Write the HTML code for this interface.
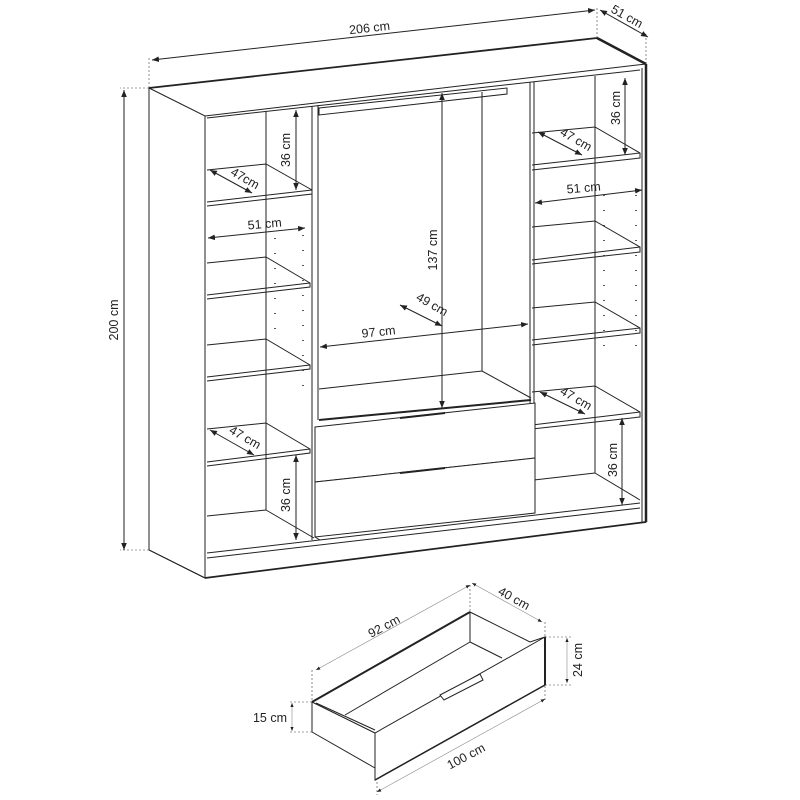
<!DOCTYPE html>
<html><head><meta charset="utf-8"><style>
html,body{margin:0;padding:0;background:#fff;}
svg{display:block;}
text{font-family:"Liberation Sans",sans-serif;font-size:12.5px;fill:#222;}
</style></head><body>
<svg width="800" height="800" viewBox="0 0 800 800" xmlns="http://www.w3.org/2000/svg">
<defs>
<marker id="a" viewBox="0 0 10 10" refX="10" refY="5" markerWidth="7" markerHeight="7" orient="auto-start-reverse"><path d="M0,1 L10,5 L0,9 z" fill="#222"/></marker>
</defs>
<g fill="none" stroke="#222" stroke-width="1">
<path d="M149,88 L597,38 L646,64 L646,522 L205,578 L149,550 Z" fill="#fff"/>
<path d="M597,38 L646,64" stroke-width="2.5"/>
<path d="M149,88 L205,116 L646,64" />
<path d="M149,88 L597,38" stroke-width="1.8"/>
<path d="M205,116 L205,578" />
<path d="M642,68 L642,522" />
<path d="M646,64 L646,522" stroke-width="2.5"/>
<path d="M205,578 L646,522" stroke-width="1.8"/>
<path d="M149,88 L149,550 L205,578"/>
<path d="M207,118 L640,70"/>
<path d="M207,553 L640,503 M207,558 L640,508"/>
<path d="M312,106 L312,540 M318,105 L318,420 M530,82 L530,403 M534,82 L534,512"/>
<path d="M266,111 L266,510 M266,510 L314,538"/>
<path d="M207,170 L266,164 L312,190 L312,194 L207,206 M207,202 L312,190"/>
<path d="M207,263 L266,257 L310,283 L310,287 L207,299 M207,295 L310,283"/>
<path d="M207,345 L266,339 L310,365 L310,369 L207,381 M207,377 L310,365"/>
<path d="M207,429 L266,423 L310,449 L310,453 L207,466 M207,462 L310,449"/>
<path d="M207,516 L266,510"/>
<path d="M595,76 L595,473 L640,500"/>
<path d="M532,133 L595,127 L640,153 L640,158 L532,170 M532,165 L640,153"/>
<path d="M532,227 L595,221 L640,247 L640,252 L532,264 M532,260 L640,247"/>
<path d="M532,308 L595,302 L640,328 L640,333 L532,345 M532,340 L640,328"/>
<path d="M532,392 L595,386 L640,412 L640,417 L532,429 M532,425 L640,412"/>
<path d="M534,480 L595,473"/>
<path d="M319,108 L507,88 L507,94 L319,115 Z"/>
<path d="M482,92 L482,371 M319,389 L482,371 L531,398"/>
<path d="M319,420 L531,400" stroke-width="2"/>
<path d="M315,427 L535,403 L535,458 L315,482 Z" fill="#fff"/>
<path d="M315,482 L535,458 L535,513 L315,537 Z" fill="#fff"/>
<path d="M315,537 L320,540"/>
<path d="M400,418 L445,413 M400,473 L445,468" stroke-width="2"/>
<g stroke-dasharray="1 14" stroke-width="1.5">
<path d="M275,238 L275,340 M303,235 L303,400 M604,195 L604,360 M636,195 L636,360"/>
</g>
</g>
<g fill="none" stroke="#444" stroke-width="0.6" stroke-dasharray="2 2">
<path d="M149,88 L149,58 M597,38 L597,8 M646,64 L646,34 M149,88 L120,88 M149,550 L120,550"/>
<path d="M312,670 L312,700 M470,585 L470,612 M545,622 L545,636 M545,637 L572,637 M545,685 L572,685 M312,702 L288,702 M312,732 L288,732 M377,782 L377,795 M545,686 L545,700"/>
</g>
<g fill="none" stroke="#222" stroke-width="1" marker-start="url(#a)" marker-end="url(#a)">
<path d="M152,60 L595,10"/>
<path d="M600,10 L648,37"/>
<path d="M124,90 L124,550"/>
<path d="M296,110 L296,190"/>
<path d="M210,170 L252,193"/>
<path d="M208,238 L305,228"/>
<path d="M442,93 L442,408"/>
<path d="M400,305 L442,326"/>
<path d="M320,347 L528,324"/>
<path d="M210,430 L254,455"/>
<path d="M296,455 L296,540"/>
<path d="M625,78 L625,155"/>
<path d="M538,132 L582,155"/>
<path d="M535,203 L642,190"/>
<path d="M540,392 L585,414"/>
<path d="M622,418 L622,505"/>
</g>
<g fill="none" stroke="#888" stroke-width="0.6" marker-start="url(#a)" marker-end="url(#a)">
<path d="M316,670 L470,585"/>
<path d="M472,583 L542,622"/>
<path d="M567,638 L567,683"/>
<path d="M292,703 L292,731"/>
<path d="M377,792 L545,699"/>
</g>
<g fill="none" stroke="#222" stroke-width="1">
<path d="M312,702 L470,612 L530,642 L545,637 L545,685 L375,780 L375,768 L312,732 Z" fill="#fff"/>
<path d="M312,702 L470,612" stroke-width="2"/>
<path d="M312,702 L375,733 L545,637"/>
<path d="M316,703 L375,730 M375,733 L375,780" />
<path d="M470,612 L470,642 L345,715 M470,642 L502,658"/>
<path d="M440,695 L480,674 L483,680 L444,700 Z" fill="#fff"/>
<path d="M545,637 L545,685" stroke-width="2"/>
<path d="M375,780 L545,685" stroke-width="1.5"/>
</g>
<text x="370" y="32" transform="rotate(-6.4 370 32)" text-anchor="middle">206 cm</text>
<text x="625" y="20" transform="rotate(29 625 20)" text-anchor="middle">51 cm</text>
<text x="118" y="320" transform="rotate(-90 118 320)" text-anchor="middle">200 cm</text>
<text x="290" y="150" transform="rotate(-90 290 150)" text-anchor="middle">36 cm</text>
<text x="243" y="182" transform="rotate(30 243 182)" text-anchor="middle">47cm</text>
<text x="265" y="228" transform="rotate(-5 265 228)" text-anchor="middle">51 cm</text>
<text x="437" y="250" transform="rotate(-90 437 250)" text-anchor="middle">137 cm</text>
<text x="430" y="308" transform="rotate(30 430 308)" text-anchor="middle">49 cm</text>
<text x="379" y="336" transform="rotate(-6 379 336)" text-anchor="middle">97 cm</text>
<text x="243" y="441" transform="rotate(30 243 441)" text-anchor="middle">47 cm</text>
<text x="290" y="495" transform="rotate(-90 290 495)" text-anchor="middle">36 cm</text>
<text x="620" y="108" transform="rotate(-90 620 108)" text-anchor="middle">36 cm</text>
<text x="574" y="143" transform="rotate(30 574 143)" text-anchor="middle">47 cm</text>
<text x="584" y="192" transform="rotate(-5 584 192)" text-anchor="middle">51 cm</text>
<text x="574" y="402" transform="rotate(30 574 402)" text-anchor="middle">47 cm</text>
<text x="617" y="460" transform="rotate(-90 617 460)" text-anchor="middle">36 cm</text>
<text x="386" y="630" transform="rotate(-28 386 630)" text-anchor="middle">92 cm</text>
<text x="512" y="602" transform="rotate(29 512 602)" text-anchor="middle">40 cm</text>
<text x="582" y="660" transform="rotate(-90 582 660)" text-anchor="middle">24 cm</text>
<text x="270" y="722" text-anchor="middle">15 cm</text>
<text x="468" y="760" transform="rotate(-28 468 760)" text-anchor="middle">100 cm</text>
</svg>
</body></html>
